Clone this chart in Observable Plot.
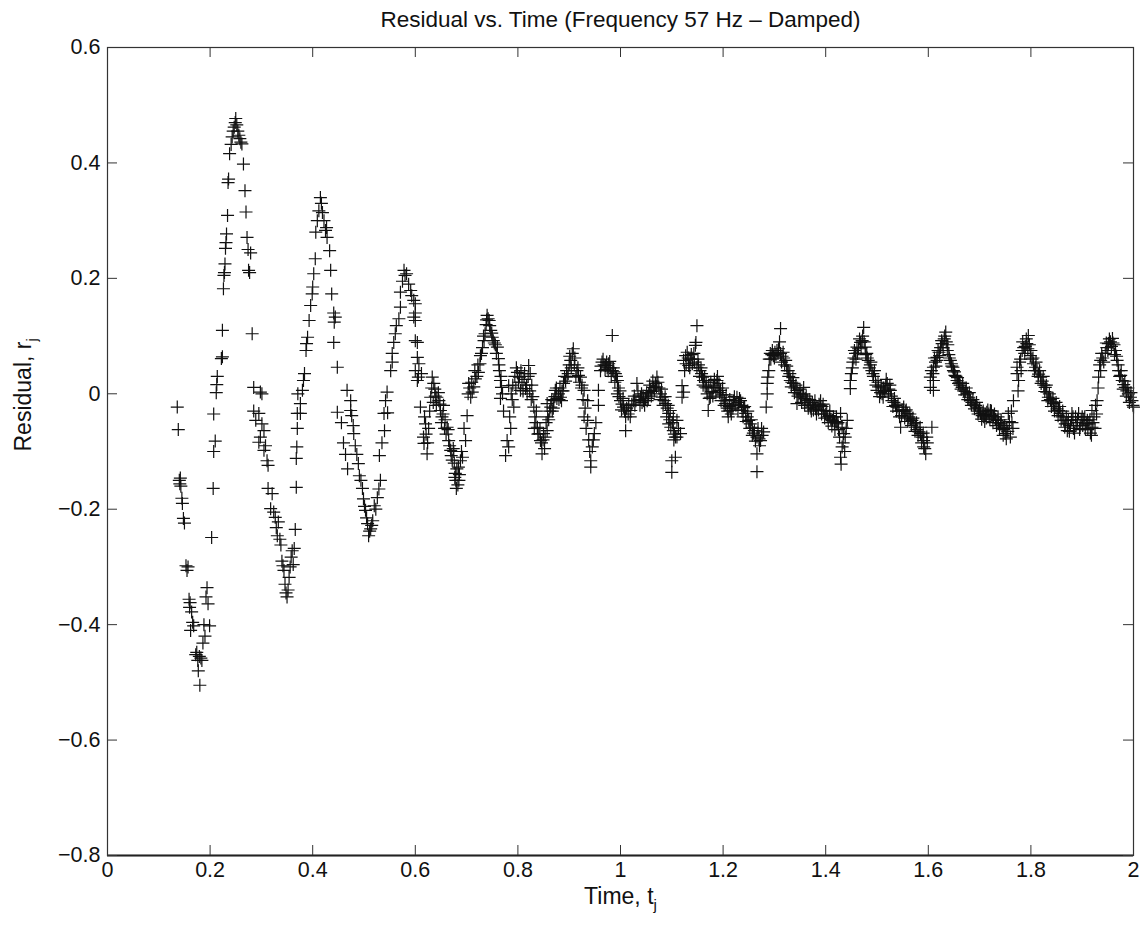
<!DOCTYPE html>
<html>
<head>
<meta charset="utf-8">
<script src="https://cdn.jsdelivr.net/npm/d3@7"></script>
<script src="https://cdn.jsdelivr.net/npm/@observablehq/plot@0.6"></script>
<style>
  html, body { margin: 0; padding: 0; background: #fff; }
  #chart svg { display: block; }
</style>
</head>
<body>
<div id="chart"></div>
<script>
// ---- data: [time t_j, residual r_j] ----
const seg1 = [[0.136,-0.023],[0.138,-0.062],[0.140,-0.150],[0.141,-0.156],[0.142,-0.146],[0.143,-0.160],[0.145,-0.181],[0.146,-0.190],[0.148,-0.216],[0.150,-0.224],[0.153,-0.298],[0.155,-0.306],[0.157,-0.300],[0.159,-0.356],[0.160,-0.370],[0.161,-0.362],[0.162,-0.410],[0.164,-0.378],[0.166,-0.396],[0.168,-0.402],[0.172,-0.452],[0.174,-0.448],[0.176,-0.462],[0.177,-0.480],[0.179,-0.455],[0.180,-0.505],[0.182,-0.458],[0.184,-0.462],[0.186,-0.432],[0.188,-0.400],[0.190,-0.420],[0.192,-0.352],[0.194,-0.336],[0.196,-0.364],[0.199,-0.402],[0.203,-0.249],[0.206,-0.164],[0.207,-0.100],[0.210,-0.082],[0.207,-0.035],[0.212,0.002],[0.213,0.016],[0.214,0.030]];
const seg2 = [[0.222,0.061],[0.224,0.064],[0.224,0.110],[0.226,0.182],[0.227,0.205],[0.228,0.210],[0.229,0.225],[0.230,0.252],[0.231,0.262],[0.232,0.277],[0.234,0.309],[0.235,0.366],[0.236,0.372],[0.238,0.416],[0.241,0.432],[0.243,0.445],[0.245,0.455],[0.247,0.462],[0.249,0.470],[0.250,0.477],[0.252,0.466],[0.254,0.455],[0.256,0.448],[0.258,0.442],[0.260,0.436],[0.262,0.433],[0.265,0.398],[0.268,0.352],[0.270,0.315],[0.272,0.271],[0.274,0.250],[0.275,0.214],[0.277,0.210],[0.279,0.244],[0.282,0.104],[0.285,0.011],[0.285,-0.030],[0.289,-0.046],[0.295,-0.034],[0.301,-0.052],[0.305,-0.064],[0.298,-0.075],[0.295,-0.084],[0.298,0.003],[0.301,0.000],[0.308,-0.090],[0.305,-0.098],[0.311,-0.116],[0.313,-0.124]];
const seg3 = [[0.313,-0.164],[0.318,-0.199],[0.321,-0.173],[0.324,-0.205],[0.327,-0.214],[0.329,-0.232],[0.331,-0.246],[0.333,-0.222],[0.336,-0.252],[0.338,-0.262],[0.340,-0.290],[0.342,-0.298],[0.344,-0.306],[0.346,-0.330],[0.348,-0.345],[0.350,-0.352],[0.352,-0.340],[0.354,-0.318],[0.356,-0.300],[0.358,-0.283],[0.360,-0.272],[0.362,-0.296],[0.364,-0.268],[0.366,-0.235],[0.368,-0.162],[0.368,-0.112],[0.369,-0.092],[0.370,-0.060],[0.370,-0.034],[0.371,0.000],[0.376,-0.017],[0.376,-0.034],[0.380,0.006],[0.382,0.023],[0.384,0.035],[0.387,0.075],[0.388,0.087],[0.390,0.098],[0.393,0.127],[0.396,0.153],[0.399,0.173],[0.400,0.185],[0.402,0.208],[0.405,0.234],[0.406,0.280],[0.409,0.300],[0.412,0.317],[0.415,0.340],[0.417,0.330],[0.419,0.314],[0.422,0.300],[0.425,0.283],[0.428,0.271],[0.427,0.288],[0.433,0.248],[0.435,0.214],[0.437,0.173],[0.441,0.140],[0.444,0.133],[0.442,0.124],[0.441,0.089],[0.448,0.046],[0.448,-0.032],[0.467,0.006],[0.474,-0.012],[0.474,-0.029]];
const seg4 = [[0.456,-0.050],[0.460,-0.085],[0.464,-0.105],[0.468,-0.130],[0.476,-0.038],[0.479,-0.055],[0.480,-0.069],[0.483,-0.090],[0.486,-0.105],[0.489,-0.121],[0.491,-0.142],[0.494,-0.150],[0.497,-0.164],[0.499,-0.182],[0.501,-0.195],[0.503,-0.202],[0.505,-0.215],[0.507,-0.225],[0.509,-0.246],[0.511,-0.238],[0.513,-0.234],[0.515,-0.228],[0.517,-0.220],[0.520,-0.194],[0.523,-0.200],[0.526,-0.180],[0.529,-0.165],[0.532,-0.150],[0.530,-0.107],[0.535,-0.085],[0.540,-0.064],[0.539,-0.034],[0.542,-0.012],[0.545,0.003],[0.546,-0.033],[0.552,0.040],[0.555,0.055],[0.555,0.070],[0.558,0.089],[0.561,0.104],[0.563,0.118],[0.568,0.130],[0.571,0.150],[0.571,0.176],[0.575,0.195],[0.578,0.214],[0.580,0.205],[0.583,0.208],[0.587,0.190],[0.591,0.179],[0.593,0.170],[0.597,0.162],[0.597,0.133],[0.600,0.156],[0.600,0.140],[0.600,0.127],[0.600,0.092],[0.604,0.089],[0.604,0.063],[0.607,0.052],[0.600,0.040],[0.604,0.023],[0.606,0.029],[0.610,-0.023]];
const seg5 = [[0.612,0.035],[0.616,-0.075],[0.617,-0.086],[0.620,-0.052],[0.623,-0.104],[0.626,-0.060],[0.633,0.029],[0.636,0.018],[0.630,-0.006],[0.639,-0.004],[0.642,-0.006],[0.646,-0.012],[0.649,-0.029],[0.652,-0.040],[0.655,-0.020],[0.658,-0.045],[0.662,-0.058],[0.665,-0.081],[0.669,-0.098],[0.670,-0.107],[0.674,-0.095],[0.676,-0.120],[0.678,-0.138],[0.679,-0.150],[0.680,-0.164],[0.683,-0.158],[0.684,-0.127],[0.686,-0.140],[0.688,-0.116],[0.692,-0.110],[0.698,-0.081],[0.701,-0.038],[0.704,0.018],[0.708,-0.006],[0.711,0.003],[0.714,0.012],[0.717,0.026],[0.720,0.030],[0.723,0.037],[0.726,0.052],[0.727,0.066],[0.731,0.080],[0.734,0.092],[0.736,0.104],[0.738,0.120],[0.740,0.136],[0.742,0.130],[0.744,0.127],[0.747,0.110],[0.750,0.098],[0.752,0.092],[0.756,0.085],[0.760,0.081],[0.762,0.061],[0.764,0.040],[0.766,0.023],[0.768,0.011],[0.766,-0.008],[0.772,-0.030],
  [0.618,-0.040],[0.621,-0.070],[0.624,-0.085],[0.628,-0.030],[0.632,0.010],[0.635,-0.015],[0.638,0.008],[0.641,-0.020],[0.645,0.002],[0.648,-0.018],[0.651,-0.050],[0.654,-0.035],[0.657,-0.060],[0.660,-0.070],[0.664,-0.062],[0.667,-0.090],[0.672,-0.115],[0.675,-0.100],[0.677,-0.145],[0.681,-0.130],[0.685,-0.150],[0.690,-0.100],[0.695,-0.060],[0.703,0.000],[0.706,0.010],[0.710,0.020],[0.716,0.040],[0.722,0.050],[0.729,0.070],[0.733,0.100],[0.739,0.128],[0.745,0.118],[0.749,0.105],[0.754,0.088],[0.758,0.070],[0.763,0.050],[0.767,0.030],[0.770,0.000]];
const seg6 = [[0.776,-0.107],[0.779,-0.081],[0.782,-0.092],[0.786,-0.060],[0.782,0.014],[0.789,-0.010],[0.792,-0.023],[0.796,0.010],[0.799,0.037],[0.803,0.029],[0.805,0.006],[0.808,0.020],[0.812,0.025],[0.815,0.009],[0.818,0.000],[0.821,0.049],[0.824,0.035],[0.827,0.015],[0.831,-0.023],[0.833,-0.040],[0.836,-0.030],[0.838,-0.058],[0.841,-0.069],[0.844,-0.081],[0.847,-0.104],[0.850,-0.069],[0.853,-0.075],[0.857,-0.017],[0.857,-0.064],[0.860,-0.045],[0.864,-0.023],[0.867,-0.030],[0.870,-0.012],[0.873,0.006],[0.876,-0.008],[0.880,-0.010],[0.883,-0.006],[0.886,0.005],[0.889,0.018],[0.893,0.022],[0.896,0.029],[0.900,0.050],[0.903,0.058],[0.906,0.070],[0.908,0.078],[0.911,0.062],[0.915,0.040],[0.918,0.032],[0.922,0.029],[0.925,0.015],[0.929,0.006],[0.936,-0.012],[0.929,-0.040],[0.936,-0.046],[0.949,-0.069],[0.945,-0.092],[0.942,-0.116],[0.942,-0.127],[0.957,-0.020],[0.957,0.006],
  [0.784,-0.040],[0.787,0.000],[0.790,0.015],[0.794,0.030],[0.797,0.045],[0.801,0.020],[0.806,0.040],[0.810,0.005],[0.813,0.035],[0.817,0.015],[0.820,0.030],[0.823,0.005],[0.826,-0.010],[0.829,-0.005],[0.832,-0.060],[0.835,-0.050],[0.839,-0.070],[0.843,-0.060],[0.846,-0.085],[0.849,-0.080],[0.852,-0.095],[0.855,-0.050],[0.858,-0.040],[0.862,-0.030],[0.866,-0.010],[0.869,-0.025],[0.872,-0.005],[0.875,0.010],[0.879,0.000],[0.882,0.010],[0.885,-0.012],[0.888,0.005],[0.891,0.030],[0.895,0.040],[0.898,0.035],[0.901,0.065],[0.904,0.045],[0.910,0.050],[0.913,0.030],[0.917,0.045],[0.920,0.020],[0.924,0.010],[0.927,-0.010],[0.931,-0.025],[0.933,-0.060],[0.938,-0.080],[0.940,-0.100],[0.947,-0.080],[0.952,-0.050]];
const seg7 = [[0.961,0.040],[0.964,0.055],[0.968,0.050],[0.971,0.049],[0.974,0.045],[0.977,0.052],[0.980,0.045],[0.984,0.040],[0.984,0.101],[0.987,0.038],[0.990,0.035],[0.994,0.023],[0.994,0.000],[0.997,-0.005],[1.000,-0.012],[1.003,-0.018],[1.006,-0.023],[1.010,-0.040],[1.010,-0.064],[1.015,-0.035],[1.020,-0.029],[1.025,-0.012],[1.028,-0.020],[1.032,0.018],[1.036,-0.010],[1.039,-0.006],[1.042,-0.015],[1.045,-0.012],[1.049,-0.008],[1.052,-0.012],[1.055,0.000],[1.058,0.006],[1.061,0.004],[1.064,0.011],[1.068,0.018],[1.071,0.029],[1.075,0.010],[1.078,0.000],[1.081,-0.006],[1.085,-0.012],[1.088,-0.017],[1.091,-0.025],[1.094,-0.034],[1.094,-0.052],[1.098,-0.058],[1.103,-0.064],[1.107,-0.075],[1.100,-0.116],[1.100,-0.136],
  [0.962,0.048],[0.966,0.060],[0.970,0.042],[0.973,0.055],[0.976,0.040],[0.979,0.056],[0.982,0.030],[0.986,0.045],[0.989,0.020],[0.992,0.030],[0.996,0.010],[0.999,0.005],[1.002,-0.028],[1.005,-0.008],[1.008,-0.030],[1.012,-0.025],[1.016,-0.020],[1.019,-0.040],[1.022,-0.018],[1.027,-0.004],[1.030,-0.012],[1.034,0.005],[1.038,-0.020],[1.041,0.000],[1.044,-0.004],[1.047,-0.020],[1.051,0.002],[1.054,-0.008],[1.057,0.015],[1.060,-0.004],[1.063,0.022],[1.066,0.005],[1.070,0.012],[1.073,0.020],[1.077,-0.010],[1.080,0.008],[1.083,-0.020],[1.087,-0.005],[1.090,-0.040],[1.093,-0.020],[1.096,-0.045],[1.101,-0.050],[1.104,-0.080]];
const seg8 = [[1.097,-0.029],[1.103,-0.040],[1.105,-0.070],[1.107,-0.110],[1.110,-0.046],[1.110,-0.075],[1.113,-0.060],[1.117,-0.069],[1.120,-0.006],[1.120,0.014],[1.123,0.003],[1.123,0.058],[1.127,0.066],[1.130,0.072],[1.133,0.049],[1.136,0.060],[1.140,0.052],[1.143,0.070],[1.146,0.084],[1.147,0.089],[1.149,0.118],[1.149,0.046],[1.152,0.050],[1.155,0.040],[1.158,0.035],[1.160,0.029],[1.162,0.023],[1.165,0.012],[1.167,0.020],[1.169,0.000],[1.171,-0.029],[1.173,-0.008],[1.175,-0.006],[1.178,0.004],[1.181,0.011],[1.184,0.015],[1.188,0.023],[1.190,0.010],[1.193,0.002],[1.195,0.006],[1.198,-0.002],[1.200,-0.006],[1.203,-0.012],[1.205,-0.017],[1.208,-0.025],[1.210,-0.040],[1.212,-0.022],[1.214,-0.029],[1.217,-0.020],[1.220,-0.012],[1.223,-0.018],[1.227,-0.006],[1.230,-0.015],[1.234,-0.012],[1.237,-0.029],[1.240,-0.024],[1.244,-0.034],[1.247,-0.040],[1.250,-0.046],[1.253,-0.052],[1.257,-0.058],[1.257,-0.072],[1.261,-0.064],[1.266,-0.075],[1.266,-0.104],[1.266,-0.135],[1.270,-0.078],[1.273,-0.081],[1.276,-0.072],[1.279,-0.066],
  [1.125,0.040],[1.128,0.052],[1.132,0.062],[1.135,0.045],[1.138,0.068],[1.141,0.060],[1.144,0.055],[1.151,0.060],[1.154,0.030],[1.157,0.045],[1.161,0.015],[1.164,0.030],[1.168,0.010],[1.172,0.012],[1.176,0.020],[1.180,-0.004],[1.183,0.025],[1.186,0.002],[1.189,0.030],[1.192,0.018],[1.196,-0.012],[1.199,0.010],[1.202,-0.020],[1.206,-0.002],[1.209,-0.030],[1.213,-0.010],[1.216,-0.035],[1.219,-0.025],[1.222,-0.005],[1.225,-0.020],[1.229,-0.028],[1.232,-0.008],[1.236,-0.020],[1.239,-0.040],[1.242,-0.022],[1.245,-0.048],[1.248,-0.030],[1.252,-0.060],[1.255,-0.045],[1.259,-0.068],[1.263,-0.082],[1.268,-0.060],[1.271,-0.090],[1.275,-0.060]];
const seg9 = [[1.284,-0.023],[1.286,0.000],[1.286,0.018],[1.287,0.029],[1.290,0.060],[1.292,0.070],[1.295,0.068],[1.298,0.066],[1.301,0.072],[1.305,0.075],[1.308,0.078],[1.312,0.113],[1.312,0.070],[1.315,0.065],[1.318,0.062],[1.322,0.058],[1.325,0.040],[1.328,0.030],[1.331,0.023],[1.334,0.020],[1.337,0.018],[1.340,0.010],[1.344,0.006],[1.344,-0.017],[1.348,0.000],[1.351,-0.006],[1.354,-0.002],[1.357,0.011],[1.360,-0.008],[1.364,-0.012],[1.367,-0.018],[1.370,-0.023],[1.374,-0.015],[1.377,-0.020],[1.380,-0.026],[1.383,-0.023],[1.387,-0.018],[1.390,-0.012],[1.393,-0.022],[1.396,-0.029],[1.400,-0.035],[1.403,-0.040],[1.407,-0.038],[1.410,-0.044],[1.413,-0.046],[1.417,-0.050],[1.420,-0.048],[1.422,-0.052],[1.425,-0.062],[1.429,-0.034],[1.429,-0.110],[1.430,-0.122],[1.432,-0.058],[1.432,-0.092],[1.435,-0.069],[1.438,-0.075],[1.442,-0.046],
  [1.289,0.040],[1.293,0.060],[1.296,0.075],[1.300,0.062],[1.303,0.068],[1.307,0.070],[1.310,0.090],[1.314,0.055],[1.317,0.072],[1.320,0.050],[1.324,0.048],[1.327,0.040],[1.330,0.035],[1.333,0.012],[1.336,0.028],[1.339,0.002],[1.342,0.015],[1.346,-0.004],[1.350,0.008],[1.353,-0.015],[1.356,0.000],[1.359,-0.020],[1.362,-0.004],[1.366,-0.025],[1.369,-0.010],[1.372,-0.030],[1.376,-0.028],[1.379,-0.012],[1.382,-0.035],[1.386,-0.028],[1.389,-0.020],[1.392,-0.035],[1.395,-0.018],[1.398,-0.042],[1.402,-0.030],[1.405,-0.050],[1.408,-0.030],[1.412,-0.056],[1.415,-0.040],[1.418,-0.062],[1.421,-0.040],[1.424,-0.050],[1.427,-0.075],[1.434,-0.085],[1.437,-0.100],[1.440,-0.060]];
const seg10 = [[1.448,0.023],[1.448,0.009],[1.452,0.045],[1.455,0.062],[1.458,0.070],[1.461,0.081],[1.464,0.078],[1.468,0.089],[1.471,0.092],[1.474,0.115],[1.477,0.081],[1.480,0.070],[1.483,0.058],[1.487,0.050],[1.490,0.040],[1.493,0.030],[1.497,0.023],[1.500,0.006],[1.503,0.012],[1.507,0.002],[1.510,0.000],[1.513,0.010],[1.517,0.015],[1.520,0.018],[1.523,0.008],[1.526,0.006],[1.529,-0.012],[1.533,-0.015],[1.536,-0.020],[1.539,-0.023],[1.543,-0.030],[1.546,-0.058],[1.549,-0.028],[1.552,-0.023],[1.555,-0.030],[1.559,-0.034],[1.562,-0.040],[1.565,-0.044],[1.568,-0.046],[1.572,-0.052],[1.575,-0.058],[1.578,-0.062],[1.582,-0.066],[1.585,-0.069],[1.588,-0.075],[1.591,-0.081],[1.591,-0.092],[1.595,-0.104],[1.598,-0.085],
  [1.450,0.035],[1.453,0.055],[1.456,0.075],[1.459,0.060],[1.462,0.070],[1.466,0.095],[1.469,0.080],[1.472,0.100],[1.475,0.090],[1.478,0.068],[1.481,0.062],[1.485,0.045],[1.488,0.055],[1.492,0.035],[1.495,0.040],[1.498,0.015],[1.502,0.020],[1.505,-0.005],[1.508,0.012],[1.512,-0.006],[1.515,0.004],[1.518,0.025],[1.522,0.000],[1.525,0.015],[1.528,-0.004],[1.531,-0.022],[1.534,-0.008],[1.538,-0.030],[1.541,-0.018],[1.544,-0.040],[1.548,-0.038],[1.551,-0.030],[1.554,-0.042],[1.557,-0.028],[1.560,-0.048],[1.564,-0.035],[1.567,-0.055],[1.570,-0.042],[1.574,-0.065],[1.577,-0.050],[1.580,-0.072],[1.584,-0.058],[1.587,-0.085],[1.590,-0.068],[1.593,-0.095],[1.597,-0.075]];
const seg11 = [[1.604,0.029],[1.604,0.011],[1.607,-0.058],[1.610,0.046],[1.610,0.023],[1.610,0.006],[1.614,0.055],[1.617,0.063],[1.617,0.058],[1.621,0.072],[1.624,0.080],[1.627,0.087],[1.631,0.095],[1.634,0.107],[1.637,0.075],[1.640,0.068],[1.643,0.058],[1.646,0.048],[1.649,0.040],[1.652,0.032],[1.656,0.023],[1.659,0.018],[1.662,0.015],[1.666,0.011],[1.669,0.005],[1.672,0.004],[1.676,0.000],[1.679,-0.006],[1.682,-0.012],[1.685,-0.015],[1.689,-0.018],[1.692,-0.020],[1.695,-0.023],[1.698,-0.030],[1.702,-0.034],[1.705,-0.038],[1.708,-0.040],[1.711,-0.036],[1.714,-0.032],[1.718,-0.035],[1.721,-0.029],[1.724,-0.038],[1.727,-0.040],[1.731,-0.044],[1.734,-0.046],[1.737,-0.050],[1.741,-0.052],[1.744,-0.058],[1.747,-0.062],[1.750,-0.069],[1.753,-0.060],[1.756,-0.034],[1.760,-0.075],[1.763,-0.050],[1.766,-0.012],
  [1.606,0.040],[1.609,0.035],[1.612,0.062],[1.615,0.048],[1.619,0.075],[1.622,0.066],[1.626,0.092],[1.629,0.080],[1.632,0.100],[1.635,0.090],[1.638,0.085],[1.641,0.062],[1.645,0.052],[1.648,0.046],[1.651,0.038],[1.654,0.030],[1.657,0.028],[1.661,0.020],[1.664,0.008],[1.667,0.018],[1.671,-0.002],[1.674,0.010],[1.677,-0.010],[1.680,0.002],[1.684,-0.020],[1.687,-0.010],[1.690,-0.026],[1.694,-0.015],[1.697,-0.035],[1.700,-0.025],[1.704,-0.044],[1.707,-0.030],[1.710,-0.048],[1.713,-0.042],[1.716,-0.028],[1.720,-0.045],[1.723,-0.030],[1.726,-0.050],[1.729,-0.035],[1.733,-0.055],[1.736,-0.040],[1.739,-0.060],[1.742,-0.045],[1.746,-0.072],[1.749,-0.055],[1.752,-0.078],[1.755,-0.065],[1.758,-0.048],[1.762,-0.030],[1.765,-0.060]];
const seg12 = [[1.773,0.046],[1.773,0.035],[1.776,0.023],[1.780,0.060],[1.783,0.075],[1.786,0.080],[1.789,0.082],[1.792,0.087],[1.795,0.101],[1.799,0.066],[1.802,0.060],[1.805,0.052],[1.809,0.046],[1.812,0.040],[1.815,0.034],[1.819,0.029],[1.822,0.022],[1.825,0.015],[1.828,0.011],[1.831,0.003],[1.834,-0.006],[1.838,-0.010],[1.841,-0.014],[1.844,-0.017],[1.847,-0.022],[1.851,-0.026],[1.854,-0.029],[1.857,-0.034],[1.861,-0.040],[1.864,-0.046],[1.867,-0.052],[1.871,-0.064],[1.873,-0.046],[1.877,-0.055],[1.880,-0.034],[1.883,-0.060],[1.887,-0.040],[1.890,-0.050],[1.893,-0.034],[1.896,-0.055],[1.900,-0.040],[1.903,-0.045],[1.906,-0.060],[1.910,-0.046],[1.913,-0.052],[1.916,-0.068],[1.919,-0.058],[1.919,-0.029],[1.923,-0.040],[1.926,-0.020],[1.929,-0.012],[1.932,0.029],[1.936,0.040],[1.936,0.058],[1.940,0.062],[1.945,0.070],[1.948,0.080],[1.951,0.087],[1.955,0.090],[1.959,0.096],[1.962,0.085],[1.965,0.075],[1.968,0.058],[1.971,0.040],[1.975,0.032],[1.978,0.023],[1.981,0.016],[1.984,0.011],[1.987,0.005],[1.990,0.000],[1.994,-0.006],[1.997,-0.012],[2.000,-0.023],
  [1.775,0.005],[1.778,0.055],[1.781,0.040],[1.784,0.090],[1.788,0.070],[1.791,0.095],[1.794,0.078],[1.797,0.085],[1.800,0.075],[1.804,0.062],[1.807,0.040],[1.810,0.055],[1.814,0.030],[1.817,0.040],[1.820,0.018],[1.824,0.030],[1.827,0.004],[1.830,0.015],[1.833,-0.012],[1.836,0.000],[1.840,-0.022],[1.843,-0.008],[1.846,-0.030],[1.849,-0.015],[1.853,-0.038],[1.856,-0.022],[1.859,-0.046],[1.862,-0.030],[1.866,-0.058],[1.869,-0.040],[1.872,-0.052],[1.875,-0.065],[1.879,-0.045],[1.882,-0.040],[1.885,-0.068],[1.888,-0.055],[1.891,-0.045],[1.895,-0.062],[1.898,-0.045],[1.901,-0.055],[1.905,-0.040],[1.908,-0.052],[1.911,-0.062],[1.915,-0.045],[1.918,-0.072],[1.921,-0.050],[1.925,-0.060],[1.928,-0.035],[1.931,0.010],[1.934,0.050],[1.938,0.070],[1.942,0.055],[1.947,0.088],[1.950,0.075],[1.953,0.095],[1.957,0.082],[1.960,0.088],[1.963,0.068],[1.967,0.065],[1.970,0.050],[1.973,0.030],[1.976,0.040],[1.980,0.008],[1.983,0.022],[1.986,-0.004],[1.989,0.010],[1.992,-0.015],[1.995,0.002],[1.999,-0.020]];

const xTicks = [0, 0.2, 0.4, 0.6, 0.8, 1, 1.2, 1.4, 1.6, 1.8, 2];
const yTicks = [-0.8, -0.6, -0.4, -0.2, 0, 0.2, 0.4, 0.6];
const titleText = "Residual vs. Time (Frequency 57 Hz \u2013 Damped)";
const xLabelText = "Time, t";
const yLabelText = "Residual, r";
const subText = "j";

// ---- build table ----
const points = [seg1, seg2, seg3, seg4, seg5, seg6, seg7, seg8, seg9, seg10, seg11, seg12]
  .flat()
  .map(([t, r]) => ({t, r}));

// "+" marker drawn as two thin strokes
const plusSymbol = {
  draw(ctx, size) {
    const s = Math.sqrt(size / Math.PI);
    ctx.moveTo(-s, 0); ctx.lineTo(s, 0);
    ctx.moveTo(0, -s); ctx.lineTo(0, s);
  }
};

const W = 1141, H = 925;
const mL = 107, mR = 8, mT = 47, mB = 70;
const frameW = W - mL - mR, frameH = H - mT - mB;
const tickLen = 10;
const fmt = d3.format("~g");

const chart = Plot.plot({
  width: W,
  height: H,
  marginLeft: mL,
  marginRight: mR,
  marginTop: mT,
  marginBottom: mB,
  style: {fontFamily: "'Liberation Sans', Arial, sans-serif", fontSize: "21px", color: "#111", background: "#fff"},
  x: {domain: [0, 2]},
  y: {domain: [-0.8, 0.6]},
  marks: [
    Plot.axisX({ticks: xTicks, tickSize: 0, tickPadding: 6, tickFormat: fmt, label: null, fontSize: 21.5}),
    Plot.axisY({ticks: yTicks, tickSize: 0, tickPadding: 7, tickFormat: fmt, label: null, fontSize: 21.5}),
    Plot.dot(points, {x: "t", y: "r", symbol: plusSymbol, r: 6.5, fill: "none", stroke: "#111", strokeWidth: 1.2}),
    Plot.frame({stroke: "#333", strokeWidth: 1.2}),
    Plot.ruleY([-0.8], {stroke: "#222", strokeWidth: 2}),
    Plot.tickX(xTicks, {x: d => d, insetTop: frameH - tickLen, stroke: "#333"}),
    Plot.tickX(xTicks, {x: d => d, insetBottom: frameH - tickLen, stroke: "#333"}),
    Plot.tickY(yTicks, {y: d => d, insetRight: frameW - tickLen, stroke: "#333"}),
    Plot.tickY(yTicks, {y: d => d, insetLeft: frameW - tickLen, stroke: "#333"}),
    Plot.text([titleText], {text: d => d, frameAnchor: "top", dy: -21, lineAnchor: "bottom", fontSize: 22.5, fill: "#111"}),
    Plot.text([xLabelText], {text: d => d, frameAnchor: "bottom", dy: 48, lineAnchor: "bottom", fontSize: 23, fill: "#111"}),
    Plot.text([yLabelText], {text: d => d, frameAnchor: "left", dx: -77, rotate: -90, lineAnchor: "bottom", fontSize: 23, fill: "#111"})
  ]
});

// subscript j on both axis labels
d3.select(chart).selectAll("text")
  .filter(function () { return this.textContent === xLabelText || this.textContent === yLabelText; })
  .each(function () {
    d3.select(this).append("tspan")
      .attr("dy", "0.45em")
      .attr("font-size", "15px")
      .text(subText);
  });

document.getElementById("chart").appendChild(chart);
</script>
</body>
</html>
